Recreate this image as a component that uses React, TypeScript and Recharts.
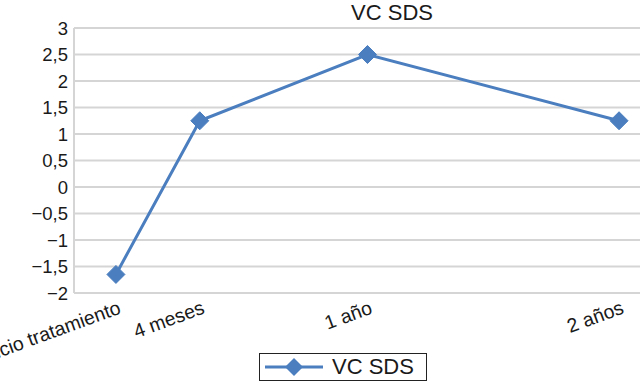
import React from 'react';
import { LineChart, Line, XAxis, YAxis, CartesianGrid } from 'recharts';

// Months since start of treatment and the matching axis labels
const months = [0, 4, 12, 24];
const monthLabels = ['Inicio tratamiento', '4 meses', '1 año', '2 años'];
// Growth velocity SDS at each visit
const vcSds = [-1.65, 1.25, 2.5, 1.25];
const yTicks = [-2, -1.5, -1, -0.5, 0, 0.5, 1, 1.5, 2, 2.5, 3];

const data = months.map((m, i) => ({ m, label: monthLabels[i], v: vcSds[i] }));
const labelByMonth: Record<number, string> = {};
months.forEach((m, i) => (labelByMonth[m] = monthLabels[i]));

const FONT = '"Liberation Sans", Arial, Helvetica, sans-serif';
const BLUE = '#4a7ebf';
const GRID = '#d5d5d5';

const fmtY = (v: number) => (v < 0 ? '\u2212' : '') + String(Math.abs(v)).replace('.', ',');

const Diamond = (props: any) => {
  const { cx, cy } = props;
  if (cx == null || cy == null) return null;
  const r = 9;
  return (
    <polygon
      points={`${cx},${cy - r} ${cx + r},${cy} ${cx},${cy + r} ${cx - r},${cy}`}
      fill={BLUE}
      stroke={BLUE}
      strokeWidth={1}
    />
  );
};

const MonthTick = (props: any) => {
  const { x, y, payload } = props;
  const tx = x + 6;
  const ty = y + 20;
  return (
    <text
      x={tx}
      y={ty}
      textAnchor="end"
      transform={`rotate(-20, ${tx}, ${ty})`}
      fontSize={19.5}
      fontFamily={FONT}
      fill="#1a1a1a"
    >
      {labelByMonth[payload.value]}
    </text>
  );
};

export default function App() {
  return (
    <div style={{ position: 'absolute', left: 0, top: 0, width: 640, height: 384, background: '#fff', fontFamily: FONT }}>
      <LineChart
        width={640}
        height={384}
        data={data}
        margin={{ top: 28, right: 0, bottom: 0, left: 0 }}
      >
        <CartesianGrid horizontal vertical={false} stroke={GRID} strokeWidth={2} />
        <XAxis
          type="number"
          dataKey="m"
          domain={[-2, 25]}
          ticks={months}
          height={91}
          axisLine={false}
          tickLine={false}
          tickSize={0}
          tickMargin={0}
          interval={0}
          tick={<MonthTick />}
        />
        <YAxis
          type="number"
          domain={[-2, 3]}
          ticks={yTicks}
          width={74}
          tickFormatter={fmtY}
          tickLine={false}
          tickSize={0}
          tickMargin={6}
          axisLine={{ stroke: GRID, strokeWidth: 2 }}
          tick={{ fontSize: 18.5, fill: '#1a1a1a', fontFamily: FONT }}
          interval={0}
        />
        <Line
          type="linear"
          dataKey="v"
          name="VC SDS"
          stroke={BLUE}
          strokeWidth={3}
          dot={<Diamond />}
          activeDot={false}
          isAnimationActive={false}
        />
      </LineChart>
      <div
        style={{
          position: 'absolute',
          left: 0,
          width: 784,
          top: 2,
          textAlign: 'center',
          fontSize: 22,
          color: '#1a1a1a',
          lineHeight: '22px',
        }}
      >
        VC SDS
      </div>
      <div
        style={{
          position: 'absolute',
          left: 259,
          top: 353,
          width: 168,
          height: 28,
          border: '1.5px solid #222',
          display: 'flex',
          alignItems: 'center',
          boxSizing: 'border-box',
        }}
      >
        <svg width={70} height={26} style={{ display: 'block' }}>
          <line x1={5} y1={13} x2={63} y2={13} stroke={BLUE} strokeWidth={3} />
          <polygon points="34,4 43,13 34,22 25,13" fill={BLUE} />
        </svg>
        <span style={{ fontSize: 22, color: '#1a1a1a', marginLeft: 2, lineHeight: '22px' }}>VC SDS</span>
      </div>
    </div>
  );
}
